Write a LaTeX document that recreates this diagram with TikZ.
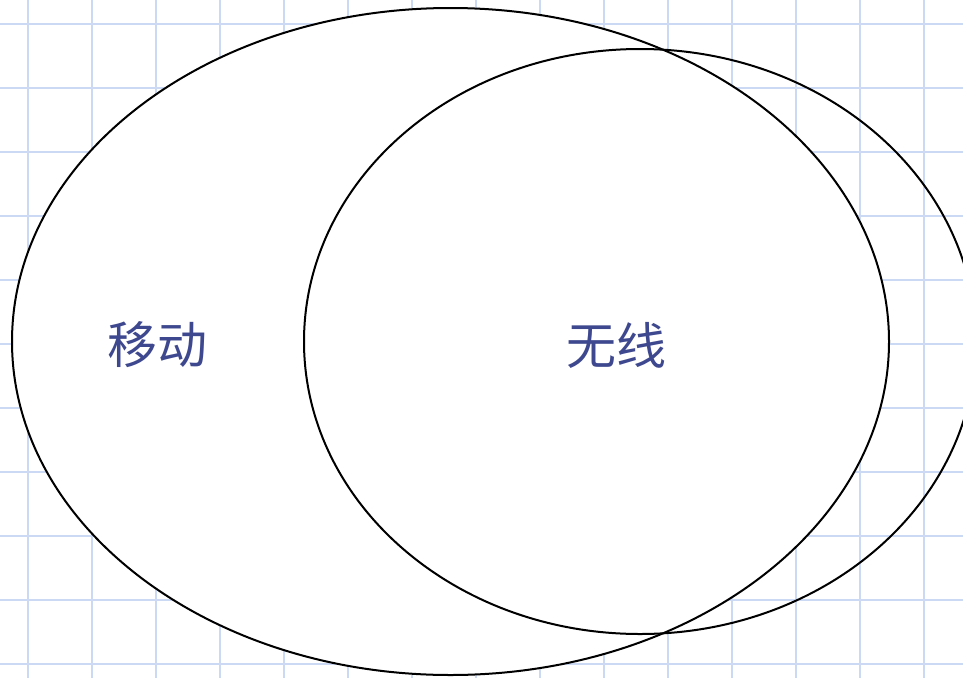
\documentclass[tikz,border=0pt]{standalone}
\usepackage{fontspec}
\newfontfamily\cjk{Noto Sans CJK SC}
\definecolor{gridc}{RGB}{204,217,245}
\definecolor{txtc}{RGB}{62,72,142}
\begin{document}
\begin{tikzpicture}[x=1pt,y=-1pt,
  gridline/.style={draw=gridc,line width=2pt},
  venn/.style={draw=black,line width=2pt},
  lbl/.style={text=txtc,font=\cjk\fontsize{50}{60}\selectfont,inner sep=0pt}]
\useasboundingbox (0,0) rectangle (963,678);
\clip (0,0) rectangle (963,678);
\fill[white] (0,0) rectangle (963,678);
\foreach \x in {28,92,...,924} \draw[gridline] (\x,0) -- (\x,678);
\foreach \y in {24,88,...,664} \draw[gridline] (0,\y) -- (963,\y);
\draw[venn,fill=white] (450.5,341.5) ellipse [x radius=438.5, y radius=333.5];
\draw[venn] (640,341.5) ellipse [x radius=336, y radius=292.5];
\node[lbl] (m) at (157,345) {移动};
\node[lbl] (w) at (616,345) {无线};
\end{tikzpicture}
\end{document}
